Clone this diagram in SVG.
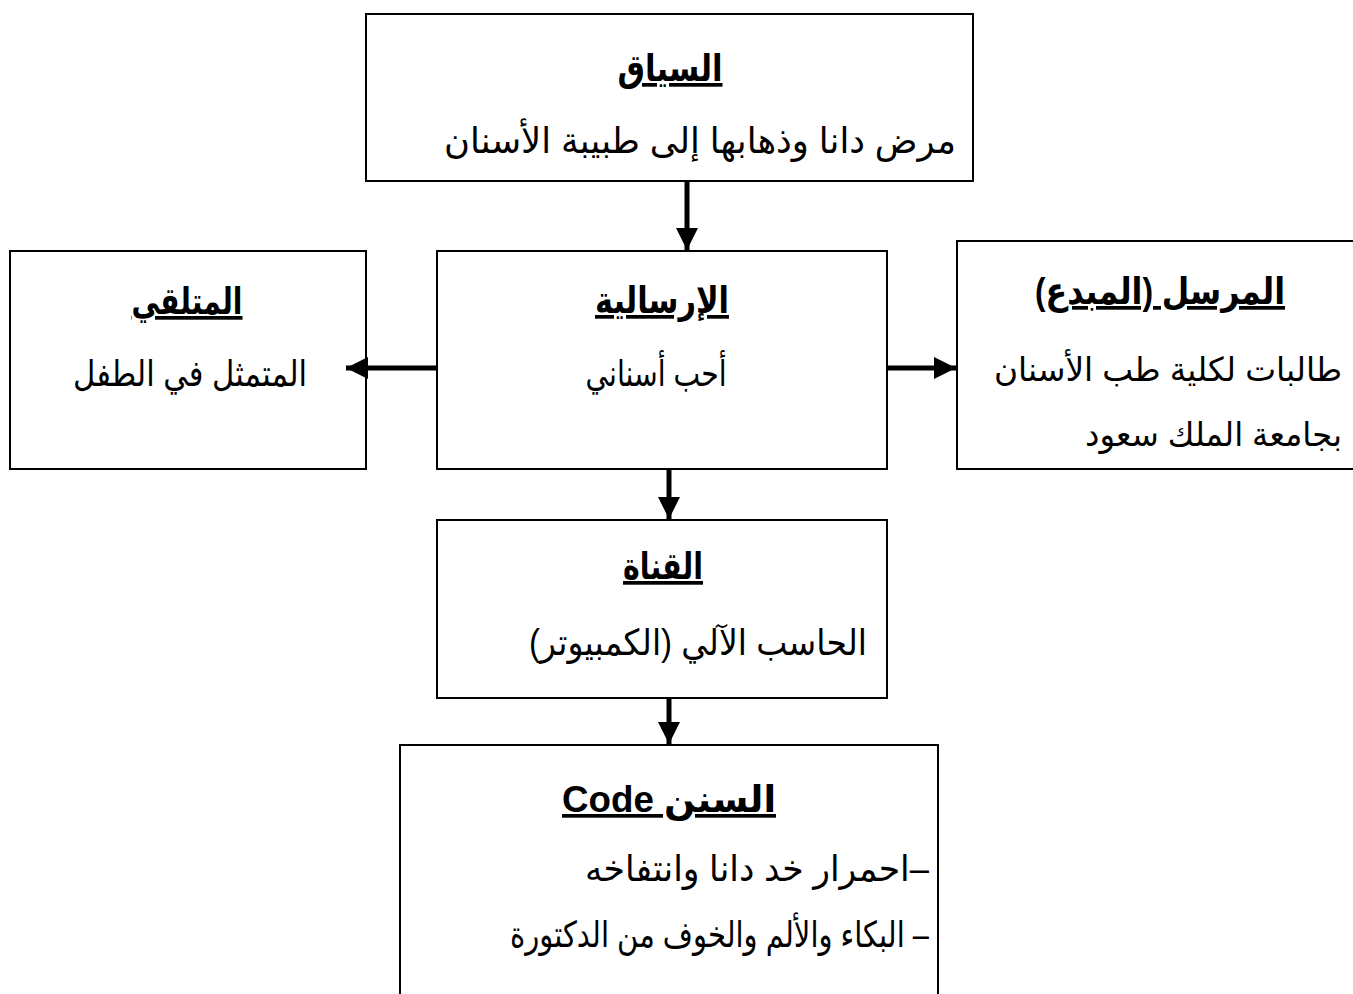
<svg xmlns="http://www.w3.org/2000/svg" width="1353" height="994" viewBox="0 0 1353 994">
<style>
.box{fill:#fff;stroke:#000;stroke-width:2}
.t{font-family:"Liberation Sans","DejaVu Sans",Arial,sans-serif;font-size:36px;fill:#000;direction:rtl;text-anchor:middle}
.s{font-size:33px}
.h{font-weight:bold;text-decoration:underline;font-size:37px}
.c{stroke:#000;stroke-width:5;fill:none}
</style>
<defs>
<marker id="ah" viewBox="0 0 10 10" refX="10" refY="5" markerWidth="4.4" markerHeight="4.4" orient="auto" markerUnits="strokeWidth">
<path d="M0,0 L10,5 L0,10 z" fill="#000"/>
</marker>
</defs>
<rect width="1353" height="994" fill="#fff"/>
<g id="context">
<rect class="box" x="366" y="14" width="607" height="167"/>
<text class="t h" x="670" y="81" textLength="105" lengthAdjust="spacingAndGlyphs">السياق</text>
<text class="t" x="700" y="153" textLength="512" lengthAdjust="spacingAndGlyphs">مرض دانا وذهابها إلى طبيبة  الأسنان</text>
</g>
<g id="message">
<rect class="box" x="437" y="251" width="450" height="218"/>
<text class="t h" x="662" y="313" textLength="134" lengthAdjust="spacingAndGlyphs">الإرسالية</text>
<text class="t" x="656" y="386" textLength="141" lengthAdjust="spacingAndGlyphs">أحب أسناني</text>
</g>
<g id="receiver">
<rect class="box" x="10" y="251" width="356" height="218"/>
<text class="t h" x="187" y="314" textLength="111" lengthAdjust="spacingAndGlyphs">المتلقي</text>
<text class="t" x="190" y="386" textLength="234" lengthAdjust="spacingAndGlyphs">المتمثل في الطفل</text>
</g>
<g id="sender">
<rect class="box" x="957" y="241" width="400" height="228"/>
<text class="t h" x="1160" y="304" textLength="250" lengthAdjust="spacingAndGlyphs">المرسل (المبدع)</text>
<text class="t s" x="1168" y="381" textLength="348" lengthAdjust="spacingAndGlyphs">طالبات لكلية طب الأسنان</text>
<text class="t s" x="1213.5" y="446" textLength="257" lengthAdjust="spacingAndGlyphs">بجامعة الملك سعود</text>
</g>
<g id="channel">
<rect class="box" x="437" y="520" width="450" height="178"/>
<text class="t h" x="663" y="579" textLength="80" lengthAdjust="spacingAndGlyphs">القناة</text>
<text class="t" x="698" y="655" textLength="338" lengthAdjust="spacingAndGlyphs">الحاسب الآلي (الكمبيوتر)</text>
</g>
<g id="code">
<rect class="box" x="400" y="745" width="538" height="260"/>
<text class="t h" x="669" y="812" textLength="214" lengthAdjust="spacingAndGlyphs">السنن Code</text>
<text class="t" x="757" y="881" textLength="344" lengthAdjust="spacingAndGlyphs">–احمرار خد دانا وانتفاخه</text>
<text class="t" x="719.5" y="947" textLength="419" lengthAdjust="spacingAndGlyphs">– البكاء والألم والخوف من الدكتورة</text>
</g>
<g id="connectors">
<line class="c" x1="687" y1="181" x2="687" y2="250" marker-end="url(#ah)"/>
<line class="c" x1="437" y1="368" x2="346" y2="368" marker-end="url(#ah)"/>
<line class="c" x1="887" y1="368" x2="956" y2="368" marker-end="url(#ah)"/>
<line class="c" x1="669" y1="469" x2="669" y2="519" marker-end="url(#ah)"/>
<line class="c" x1="669" y1="698" x2="669" y2="744" marker-end="url(#ah)"/>
</g>
</svg>
